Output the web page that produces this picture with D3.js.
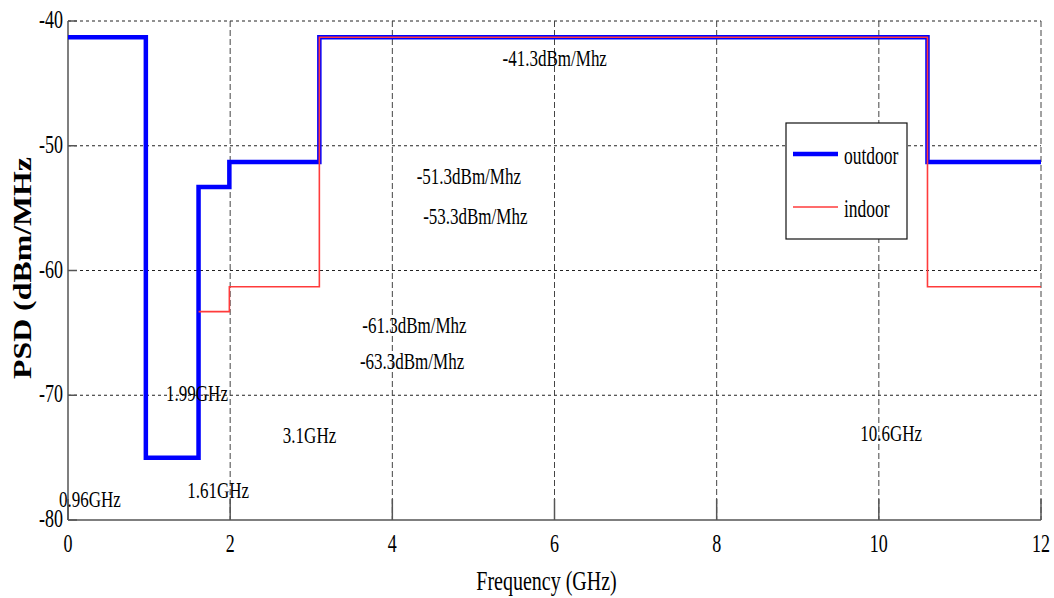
<!DOCTYPE html>
<html>
<head>
<meta charset="utf-8">
<script src="https://cdn.jsdelivr.net/npm/d3@7"></script>
<style>
  body { margin: 0; background: #fff; }
  text { font-family: "Liberation Serif", "Times New Roman", serif; fill: #000; }
</style>
</head>
<body>
<div id="chart"></div>
<script>
// ---------------------------
// DATA
// ---------------------------
const outdoorEdges = [0, 0.96, 1.61, 1.99, 3.1, 10.6, 12];
const outdoorLevels = [-41.3, -75, -53.3, -51.3, -41.3, -51.3];
const indoorEdges = [1.61, 1.99, 3.1, 10.6, 12];
const indoorLevels = [-63.3, -61.3, -41.3, -61.3];
const xTicks = [0, 2, 4, 6, 8, 10, 12];
const yTicks = [-80, -70, -60, -50, -40];

// annotations: [text, x (GHz), y (dBm/MHz baseline)]
const annotations = [
  ["-41.3dBm/Mhz", 5.36, -43.6],
  ["-51.3dBm/Mhz", 4.30, -53.07],
  ["-53.3dBm/Mhz", 4.38, -56.27],
  ["-61.3dBm/Mhz", 3.63, -65.0],
  ["-63.3dBm/Mhz", 3.60, -67.9],
  ["1.99GHz", 1.21, -70.46],
  ["3.1GHz", 2.65, -73.83],
  ["1.61GHz", 1.47, -78.24],
  ["0.96GHz", -0.11, -78.96],
  ["10.6GHz", 9.77, -73.67]
];

// ---------------------------
// LAYOUT
// ---------------------------
const width = 1054, height = 598;
const plot = { left: 68, right: 1041, top: 21, bottom: 520 };
const stretch = 1.4;   // glyphs in the reference are tall and narrow

const svg = d3.select("#chart").append("svg")
  .attr("width", width).attr("height", height);

const x = d3.scaleLinear().domain([0, 12]).range([plot.left, plot.right]);
const y = d3.scaleLinear().domain([-80, -40]).range([plot.bottom, plot.top]);

const addText = (g, str, px, py, size, anchor, weight) =>
  g.append("text")
    .attr("transform", `translate(${px},${py}) scale(1,${stretch})`)
    .attr("text-anchor", anchor || "start")
    .style("font-size", size + "px")
    .style("font-weight", weight || "normal")
    .text(str);

// ---------------------------
// GRID
// ---------------------------
svg.append("g").selectAll("line")
  .data(yTicks.filter(d => d > -80))
  .join("line")
  .attr("x1", plot.left).attr("x2", plot.right)
  .attr("y1", d => y(d)).attr("y2", d => y(d))
  .attr("stroke", "#222").attr("stroke-width", 1)
  .attr("stroke-dasharray", "3,3");

svg.append("g").selectAll("line")
  .data(xTicks.filter(d => d > 0))
  .join("line")
  .attr("x1", d => x(d)).attr("x2", d => x(d))
  .attr("y1", plot.top).attr("y2", plot.bottom)
  .attr("stroke", "#444").attr("stroke-width", 1)
  .attr("stroke-dasharray", "6,3");

// ---------------------------
// AXES (left + bottom, inward ticks)
// ---------------------------
const axisG = svg.append("g").attr("stroke", "#555").attr("stroke-width", 1.5);
axisG.append("line").attr("x1", plot.left).attr("x2", plot.left)
  .attr("y1", plot.top).attr("y2", plot.bottom);
axisG.append("line").attr("x1", plot.left).attr("x2", plot.right)
  .attr("y1", plot.bottom).attr("y2", plot.bottom);
axisG.selectAll(".yt").data(yTicks).join("line")
  .attr("x1", plot.left).attr("x2", plot.left + 9)
  .attr("y1", d => y(d)).attr("y2", d => y(d));
axisG.selectAll(".xt").data(xTicks).join("line")
  .attr("x1", d => x(d)).attr("x2", d => x(d))
  .attr("y1", plot.bottom).attr("y2", plot.bottom - 21);

const labelG = svg.append("g");
yTicks.forEach(d => addText(labelG, d, plot.left - 5, y(d) + 7, 18, "end"));
xTicks.forEach(d => addText(labelG, d, x(d), plot.bottom + 32, 18, "middle"));

// axis titles
addText(labelG, "Frequency (GHz)", (plot.left + plot.right) / 2 - 8, 590, 20, "middle");
labelG.append("text")
  .attr("transform", `translate(31,${268}) rotate(-90)`)
  .attr("text-anchor", "middle")
  .attr("textLength", 222)
  .attr("lengthAdjust", "spacingAndGlyphs")
  .style("font-size", "25px")
  .style("font-weight", "bold")
  .text("PSD (dBm/MHz");

// ---------------------------
// STEP LINES
// ---------------------------
const toPoints = (edges, levels) =>
  edges.map((e, i) => [e, levels[Math.min(i, levels.length - 1)]]);

const step = d3.line()
  .x(d => x(d[0])).y(d => y(d[1]))
  .curve(d3.curveStepAfter);

svg.append("path")
  .attr("d", step(toPoints(outdoorEdges, outdoorLevels)))
  .attr("fill", "none").attr("stroke", "#0000ff")
  .attr("stroke-width", 4.5).attr("stroke-linejoin", "miter");

svg.append("path")
  .attr("d", step(toPoints(indoorEdges, indoorLevels)))
  .attr("fill", "none").attr("stroke", "#ff3b3b")
  .attr("stroke-width", 1.6);

// ---------------------------
// ANNOTATIONS
// ---------------------------
const annG = svg.append("g");
annotations.forEach(([t, ax, ay]) => addText(annG, t, x(ax), y(ay), 17, "start"));

// ---------------------------
// LEGEND
// ---------------------------
const leg = svg.append("g").attr("transform", "translate(786,123)");
leg.append("rect").attr("width", 121).attr("height", 116)
  .attr("fill", "#fff").attr("stroke", "#111").attr("stroke-width", 1.2);
leg.append("line").attr("x1", 7).attr("x2", 52).attr("y1", 31).attr("y2", 31)
  .attr("stroke", "#0000ff").attr("stroke-width", 4.5);
leg.append("line").attr("x1", 7).attr("x2", 52).attr("y1", 84).attr("y2", 84)
  .attr("stroke", "#ff3b3b").attr("stroke-width", 1.6);
addText(leg, "outdoor", 58, 41, 17.5, "start");
addText(leg, "indoor", 58, 94, 17.5, "start");
</script>
</body>
</html>
